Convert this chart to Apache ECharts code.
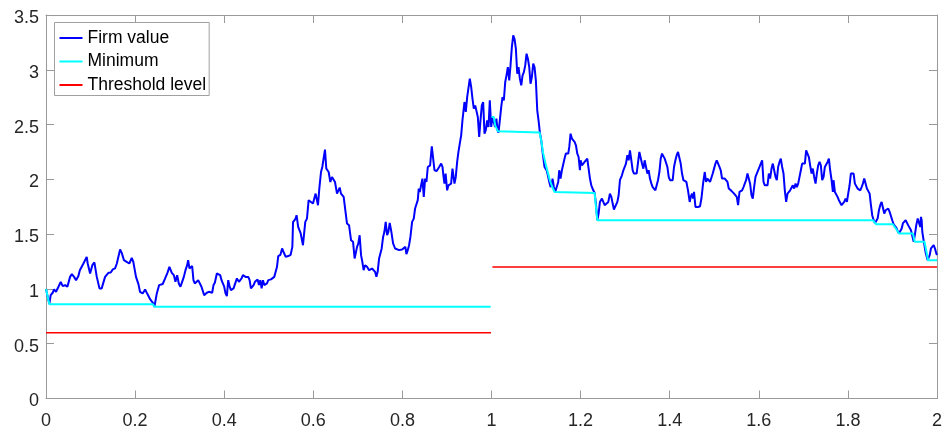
<!DOCTYPE html>
<html>
<head>
<meta charset="utf-8">
<script src="https://cdn.jsdelivr.net/npm/echarts@6/dist/echarts.min.js"></script>
<style>
html,body{margin:0;padding:0;background:#fff;}
#chart{width:945px;height:432px;}
</style>
</head>
<body>
<div id="chart"></div>
<script>
// Firm value path: time and value
var firmT = [0,0.0075,0.0105,0.015,0.018,0.0225,0.028,0.033,0.0375,0.043,0.048,0.054,0.058,0.063,0.0675,0.0727,0.076,0.08,0.084,0.0876,0.0914,0.0936,0.099,0.104,0.1086,0.114,0.12,0.125,0.1326,0.14,0.1453,0.15,0.155,0.159,0.161,0.1663,0.17,0.175,0.181,0.187,0.1925,0.196,0.202,0.2075,0.211,0.217,0.2225,0.2277,0.234,0.24,0.2434,0.2487,0.254,0.2577,0.262,0.2674,0.2726,0.277,0.2824,
0.2869,0.2906,0.2944,0.2981,0.3018,0.3056,0.3094,0.3131,0.3169,0.3191,0.322,0.3251,0.3281,0.331,0.334,0.337,0.3416,0.3445,0.349,0.352,0.355,0.358,0.361,0.3655,0.3685,0.373,0.376,0.379,0.3835,0.3865,0.391,0.394,0.397,0.4,0.403,0.406,0.409,0.412,0.415,0.418,0.421,0.4254,0.4285,0.433,0.436,0.439,0.442,0.445,0.448,0.451,0.454,0.457,0.46,0.463,0.466,0.469,0.472,0.475,0.478,0.481,0.484,0.487,0.49,0.493,0.496,0.499,0.502,0.505,0.508,0.5124,
0.5184,0.5213,0.526,0.530,0.534,0.538,0.544,0.549,0.553,0.5545,0.560,0.5625,0.566,0.5715,0.5768,0.582,0.5858,0.5895,0.5933,0.5993,0.6022,0.6052,0.6083,0.6105,0.6135,0.6173,0.6202,0.6232,0.6262,0.6292,0.6322,0.6345,0.6382,0.642,0.6457,0.6487,0.6532,0.6562,0.6592,0.6622,0.6652,0.6682,0.6719,0.6757,0.6802,0.6847,0.6892,0.6928,0.695,0.6982,0.7011,0.704,0.7072,0.7101,0.713,0.7162,0.7207,0.7252,0.7281,0.7319,0.7355,0.7387,0.7416,0.7445,0.7477,0.7506,0.7535,0.7567,0.7596,0.7625,0.7657,0.7685,0.7715,0.7746,0.7791,0.7836,0.788,0.7926,0.7955,0.7993,0.803,0.8067,0.809,0.812,0.815,0.818,0.8218,0.8255,0.8285,0.8315,0.8345,0.8367,0.839,0.842,0.845,0.848,0.851,0.854,0.857,
0.8622,0.866,0.868,0.872,0.877,0.8825,0.887,0.89,0.892,0.8944,0.897,0.9004,0.9034,0.9063,0.9094,0.9124,0.9146,0.9169,0.9198,0.9229,0.9258,0.9288,0.9319,0.9348,0.9378,0.9393,0.9423,0.9454,0.9483,0.9513,0.9544,0.9573,0.9603,0.9634,0.9663,0.9693,0.9724,0.9753,0.9783,0.9813,0.9843,0.9872,0.9903,0.9933,0.9962,0.9993,
1.002,1.005,1.008,1.011,1.0135,1.0157,1.0187,1.0218,1.0247,1.0277,1.0308,1.0337,1.0367,1.0398,1.0427,1.0457,1.0488,1.0517,1.0547,1.0578,1.0607,1.0637,1.0668,1.0697,1.0727,1.0757,1.0787,1.0817,1.0847,1.0876,1.0906,1.0937,1.0966,1.0996,1.1027,1.1056,1.1086,1.1117,1.1146,1.119,1.1236,1.1265,1.1297,1.1326,1.1355,1.137,1.14,1.143,1.146,
1.1498,1.152,1.155,1.158,1.161,1.1648,1.167,1.1723,1.1746,1.1775,1.1805,1.1836,1.1865,1.1895,1.1926,1.1955,1.1985,1.2,1.203,1.206,1.209,1.212,1.215,1.218,1.221,1.224,1.2285,1.2315,1.2344,1.2375,1.2404,1.2434,1.2479,1.251,1.254,1.2584,1.2622,1.2658,1.269,1.272,1.2748,1.278,1.2825,1.2854,1.2883,1.2928,1.296,1.299,1.3018,1.305,1.3079,1.3108,1.3139,1.3169,1.3198,1.3229,1.3258,1.3288,1.3319,1.3348,1.3378,1.3409,1.3438,1.3468,1.3499,1.3528,1.3557,1.3589,1.3618,1.3647,1.3679,1.3708,1.3737,1.3769,1.3798,1.3827,1.3858,1.3888,1.3917,1.3948,1.3978,1.4007,1.4038,1.4067,1.4097,1.4128,1.4157,1.4187,1.4218,1.4247,1.4277,1.4308,
1.4337,1.4375,1.4411,1.4449,1.4472,1.4501,1.4524,1.4546,1.4578,1.4607,1.4636,1.4681,1.4712,1.4749,1.4787,1.4816,1.4847,1.4876,1.4906,1.4937,1.4966,1.4996,1.5027,1.5056,1.5086,1.5117,1.5146,1.5175,1.5207,1.5236,1.5265,1.5297,1.5326,1.5355,1.5387,1.5416,1.5445,1.5477,1.5506,1.5535,1.5567,1.5596,1.5625,1.5657,1.5685,1.5715,1.5746,1.5775,1.5805,1.5836,1.5865,1.5895,1.5926,1.5955,1.5985,1.6016,1.6045,1.6075,1.6106,1.6135,1.6165,1.6196,1.6225,1.6254,1.6286,1.6315,1.6344,1.6376,1.6404,1.6434,1.6465,1.6494,1.6524,1.6555,1.6584,1.6614,1.6645,1.6674,1.6704,1.6735,1.6764,1.6794,1.6825,1.6854,1.6884,1.6915,1.6944,1.6973,1.7005,1.7034,1.7063,1.7094,1.7124,1.7153,1.7184,1.7213,1.7243,1.7274,
1.7303,1.7333,1.7364,1.7393,1.7423,1.7454,1.7483,1.7512,1.7544,1.7573,1.7602,1.7634,1.7663,1.7678,1.7708,1.7737,1.7768,1.7798,1.7827,1.7858,1.7888,1.7917,1.7948,1.7978,1.8007,1.8038,1.8067,1.8097,1.8128,1.8157,1.8187,1.8218,1.8247,1.8277,1.8308,1.8337,1.8367,1.8398,1.8427,1.8456,1.8488,1.8517,1.8546,1.8578,1.8607,1.8636,1.8667,1.8697,1.8726,1.8757,1.8787,1.8816,1.8847,1.8876,1.8906,1.8937,1.8966,1.8996,1.9027,1.9056,1.9085,1.9117,1.9146,1.9175,1.9207,1.9236,1.9265,1.9297,1.9326,1.9355,1.9387,1.9416,1.9445,1.9477,1.9506,1.9535,1.9567,1.9596,1.9625,1.964,1.9656,1.967,1.9705,1.9746,1.979,1.9836,1.9865,1.9895,1.9926,1.9955,1.9985,2.0];
var firmV = [1.00,0.861,0.943,0.965,0.995,0.974,1.02,1.065,1.025,1.035,1.02,1.11,1.135,1.11,1.08,1.117,1.17,1.187,1.232,1.247,1.293,1.232,1.141,1.217,1.242,1.11,1.005,1.005,1.11,1.147,1.15,1.178,1.187,1.232,1.22,1.36,1.329,1.262,1.247,1.232,1.284,1.247,1.11,1.044,0.974,0.959,0.995,0.953,0.904,0.873,0.837,0.959,1.035,1.05,1.045,1.096,1.147,1.201,1.147,
1.126,1.065,1.126,1.05,1.02,1.065,1.11,1.171,1.217,1.262,1.187,1.171,1.208,1.08,1.05,1.035,1.08,1.065,1.02,1.005,0.943,0.959,0.965,0.974,0.959,0.965,1.035,1.056,1.141,1.156,1.126,1.08,1.05,1.02,0.959,0.934,1.08,1.026,0.989,0.974,1.005,1.02,1.096,1.065,1.05,1.096,1.126,1.11,1.11,1.096,1.11,1.08,1.005,1.02,1.035,1.065,1.08,1.087,1.035,1.08,1.005,1.08,1.035,1.02,1.05,1.08,1.096,1.087,1.096,1.11,
1.2,1.299,1.31,1.369,1.33,1.293,1.30,1.31,1.384,1.61,1.64,1.673,1.566,1.51,1.399,1.612,1.642,1.81,1.794,1.779,1.764,1.87,1.855,1.764,1.916,2.067,2.113,2.128,2.271,2.098,2.098,2.067,1.976,2.022,2.007,1.976,1.87,1.885,1.925,1.87,1.876,1.84,1.718,1.597,1.582,1.445,1.43,1.278,1.293,1.384,1.415,1.49,1.308,1.247,1.171,1.217,1.202,1.171,1.156,1.186,1.171,1.156,1.11,1.156,1.278,1.262,1.369,1.475,1.521,1.612,1.49,1.521,1.603,1.536,1.415,1.369,1.354,1.354,1.338,1.36,1.35,1.384,1.317,1.354,1.399,1.475,1.612,1.642,1.734,1.718,1.81,1.916,1.885,1.946,2.007,1.84,2.007,1.976,2.113,
2.128,2.302,2.302,2.083,2.077,2.113,2.144,2.113,2.037,1.961,2.053,1.9,1.946,1.93,1.961,2.098,2.113,1.961,2.022,2.159,2.25,2.326,2.402,2.539,2.554,2.706,2.615,2.751,2.751,2.919,2.843,2.737,2.645,2.675,2.691,2.569,2.387,2.539,2.675,2.706,2.417,2.448,2.539,2.478,2.721,2.478,
2.569,2.569,2.478,2.554,2.448,2.427,2.539,2.66,2.751,2.721,2.888,2.949,3.025,2.903,3.04,3.207,3.314,3.283,3.192,2.964,3.025,2.919,2.858,2.949,2.979,3.04,3.147,3.101,3.025,2.873,2.934,3.056,3.025,2.903,2.63,2.539,2.427,2.356,2.25,2.113,2.083,2.037,1.976,1.93,1.961,2.007,1.93,1.885,1.87,
1.976,2.083,2.007,2.083,2.067,2.204,2.235,2.235,2.296,2.417,2.372,2.356,2.341,2.311,2.235,2.204,2.083,2.174,2.128,2.113,2.159,2.144,2.189,2.098,2.007,1.946,1.9,1.876,1.779,1.627,1.688,1.794,1.825,1.816,1.764,1.764,1.794,1.87,1.84,1.779,1.725,1.743,1.794,1.855,1.992,2.037,2.083,2.113,2.144,2.22,2.174,2.265,2.174,2.083,2.053,2.067,2.053,2.067,2.25,2.235,2.144,2.098,2.174,2.113,2.053,2.083,2.007,1.961,1.93,1.916,1.9,1.9,1.992,2.067,2.189,2.235,2.22,2.189,2.204,2.113,2.022,1.992,1.976,1.992,2.113,2.174,2.22,2.25,2.235,2.144,2.053,1.992,
2.0,1.976,1.9,1.794,1.84,1.87,1.825,1.885,1.748,1.764,1.748,1.755,1.825,1.961,2.067,1.976,2.007,1.992,1.976,1.992,2.053,2.098,2.144,2.174,2.159,2.113,2.083,2.007,1.992,2.007,1.998,1.976,1.916,1.9,1.895,1.885,1.87,1.885,1.84,1.764,1.885,1.885,1.9,1.93,1.961,1.992,2.053,2.037,1.961,1.855,1.825,1.93,2.022,2.053,2.067,2.113,2.144,2.174,1.976,1.946,1.961,1.946,2.053,2.007,2.098,2.144,2.128,2.022,1.992,2.113,2.159,2.189,2.113,2.053,1.9,1.794,1.87,1.855,1.9,1.885,1.946,1.916,1.961,1.93,1.961,1.961,2.083,2.144,2.159,2.144,2.265,2.281,2.204,2.128,2.053,2.098,2.022,1.961,
2.053,2.128,2.159,2.128,1.992,2.022,2.113,2.128,2.159,2.189,2.083,1.992,1.885,1.992,1.885,1.87,1.84,1.81,1.794,1.764,1.764,1.794,1.825,1.794,1.87,1.946,2.053,2.053,2.053,1.961,1.946,1.916,1.93,1.9,1.93,1.961,2.007,1.961,1.916,1.93,1.87,1.764,1.673,1.627,1.60,1.59,1.642,1.718,1.764,1.794,1.779,1.688,1.718,1.703,1.734,1.703,1.703,1.627,1.59,1.582,1.56,1.53,1.506,1.521,1.551,1.60,1.612,1.627,1.612,1.58,1.566,1.536,1.52,1.43,1.50,1.582,1.642,1.657,1.566,1.657,1.627,1.52,1.43,1.33,1.262,1.308,1.37,1.384,1.399,1.369,1.323,1.31];

// Running minimum (null = break between periods)
var minT = [0,0.0075,0.24,0.2434,0.998,1.0,1.0,1.005,1.0085,1.0142,1.0157,1.1079,1.1116,1.1161,1.1213,1.1251,1.1288,1.131,1.1364,1.1416,1.146,1.2315,1.2337,1.2375,1.856,1.8636,1.901,1.915,1.946,1.95,1.972,1.98,2.0];
var minV = [1.0,0.861,0.861,0.837,0.837,null,2.569,2.569,2.49,2.44,2.427,2.427,2.356,2.235,2.144,2.083,2.067,1.992,1.93,1.885,1.876,1.876,1.779,1.627,1.627,1.59,1.59,1.506,1.506,1.43,1.43,1.262,1.262];

// Threshold level
var thrT = [0,0.999,1.0,1.002,2.0];
var thrV = [0.6,0.6,null,1.2,1.2];

// Axis ticks
var xTicks = [0,0.2,0.4,0.6,0.8,1,1.2,1.4,1.6,1.8,2];
var yTicks = [0,0.5,1,1.5,2,2.5,3,3.5];

function pairs(t, v) {
  return t.map(function (x, i) { return [x, v[i] == null ? '-' : v[i]]; });
}

var axisColor = '#9a9a9a';
var labelColor = '#262626';
var font = 'Liberation Sans, Arial, Helvetica, sans-serif';

var chart = echarts.init(document.getElementById('chart'), null, {renderer: 'canvas'});
chart.setOption({
  animation: false,
  backgroundColor: '#ffffff',
  grid: {left: 46, top: 15, width: 891, height: 383.5, containLabel: false},
  legend: {
    show: true,
    orient: 'vertical',
    left: 54.5,
    top: 22.5,
    icon: 'rect',
    itemWidth: 23,
    itemHeight: 2,
    itemGap: 3.5,
    padding: [5.5, 3, 0.5, 5],
    backgroundColor: '#ffffff',
    borderColor: '#a0a0a0',
    borderWidth: 1,
    borderRadius: 0,
    textStyle: {fontFamily: font, fontSize: 17.5, color: '#000000', lineHeight: 20},
    data: ['Firm value', 'Minimum', 'Threshold level']
  },
  xAxis: [{
    type: 'value', min: xTicks[0], max: xTicks[xTicks.length - 1], interval: 0.2,
    position: 'bottom',
    axisLine: {show: true, onZero: false, lineStyle: {color: axisColor, width: 1}},
    axisTick: {show: true, inside: true, length: 8, lineStyle: {color: axisColor}},
    axisLabel: {show: true, margin: 14, fontSize: 18, fontFamily: font, color: labelColor},
    splitLine: {show: false}
  }, {
    type: 'value', min: xTicks[0], max: xTicks[xTicks.length - 1], interval: 0.2,
    position: 'top',
    axisLine: {show: true, onZero: false, lineStyle: {color: axisColor, width: 1}},
    axisTick: {show: true, inside: true, length: 8, lineStyle: {color: axisColor}},
    axisLabel: {show: false},
    splitLine: {show: false}
  }],
  yAxis: [{
    type: 'value', min: yTicks[0], max: yTicks[yTicks.length - 1], interval: 0.5,
    position: 'left',
    axisLine: {show: true, onZero: false, lineStyle: {color: axisColor, width: 1}},
    axisTick: {show: true, inside: true, length: 8, lineStyle: {color: axisColor}},
    axisLabel: {show: true, margin: 7, verticalAlign: 'top', lineHeight: 6, fontSize: 18, fontFamily: font, color: labelColor},
    splitLine: {show: false}
  }, {
    type: 'value', min: yTicks[0], max: yTicks[yTicks.length - 1], interval: 0.5,
    position: 'right',
    axisLine: {show: true, onZero: false, lineStyle: {color: axisColor, width: 1}},
    axisTick: {show: true, inside: true, length: 8, lineStyle: {color: axisColor}},
    axisLabel: {show: false},
    splitLine: {show: false}
  }],
  series: [{
    name: 'Firm value', type: 'line', xAxisIndex: 0, yAxisIndex: 0,
    data: pairs(firmT, firmV),
    symbol: 'none', showSymbol: false,
    lineStyle: {color: '#0000ff', width: 2},
    itemStyle: {color: '#0000ff'}
  }, {
    name: 'Minimum', type: 'line', xAxisIndex: 0, yAxisIndex: 0,
    data: pairs(minT, minV),
    symbol: 'none', showSymbol: false, connectNulls: false,
    lineStyle: {color: '#00ffff', width: 2},
    itemStyle: {color: '#00ffff'}
  }, {
    name: 'Threshold level', type: 'line', xAxisIndex: 0, yAxisIndex: 0,
    data: pairs(thrT, thrV),
    symbol: 'none', showSymbol: false, connectNulls: false,
    lineStyle: {color: '#ff0000', width: 1.5},
    itemStyle: {color: '#ff0000'}
  }]
});
</script>
</body>
</html>
